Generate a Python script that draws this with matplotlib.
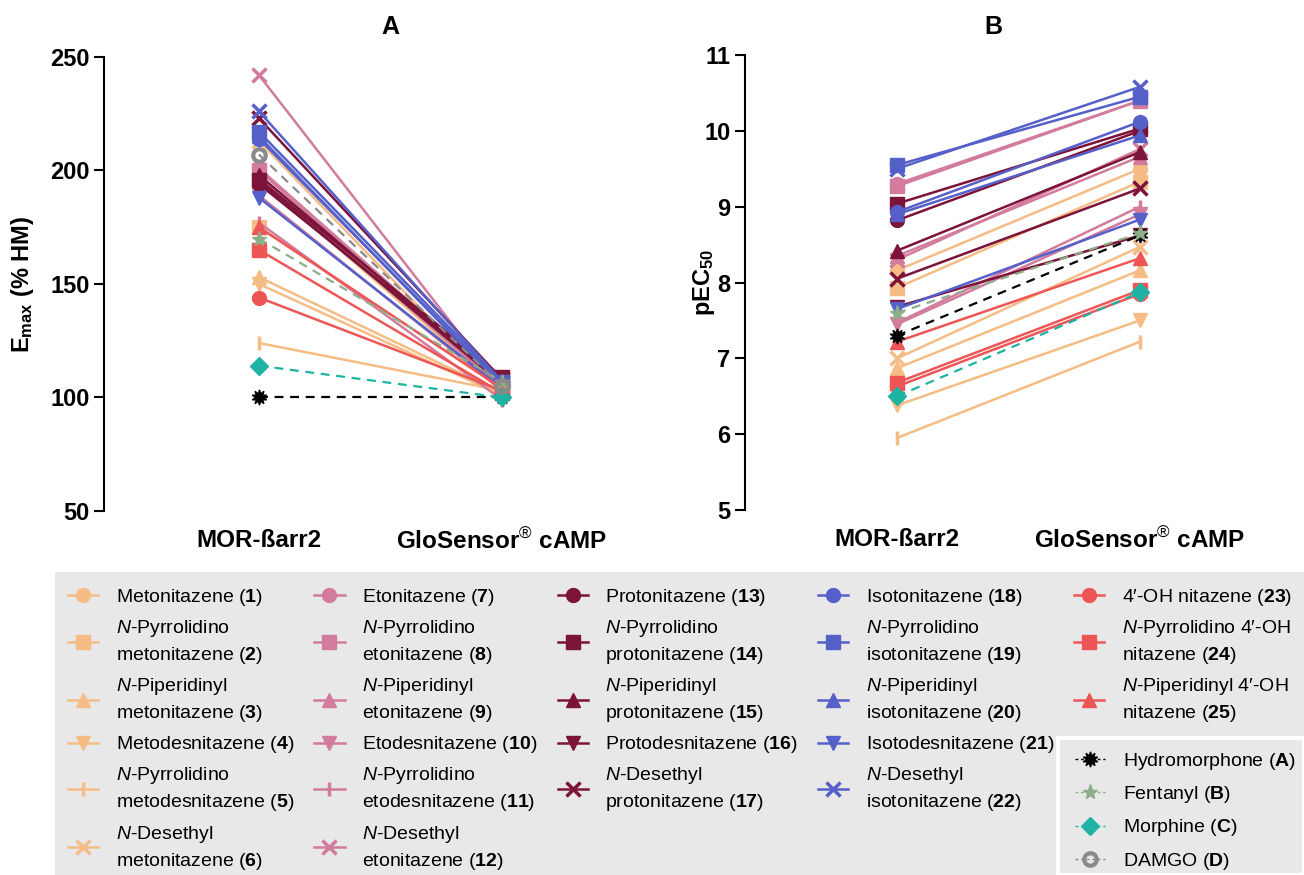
import numpy as np
import matplotlib
matplotlib.use("Agg")
import matplotlib.pyplot as plt
from matplotlib.lines import Line2D
from matplotlib.patches import Rectangle

plt.rcParams['font.family'] = ['Liberation Sans', 'DejaVu Sans']
plt.rcParams['mathtext.fontset'] = 'custom'
plt.rcParams['mathtext.rm'] = 'Liberation Sans'
plt.rcParams['mathtext.it'] = 'Liberation Sans:italic'
plt.rcParams['mathtext.bf'] = 'Liberation Sans:bold'

# ensayos
assays = ["MOR-ßarr2", r"GloSensor$^{\circledR}$ cAMP"]

# compuestos 1-25 (etiqueta de la leyenda)
names = [
    r"Metonitazene ($\mathbf{1}$)",
    "$\\mathit{N}$-Pyrrolidino\nmetonitazene ($\\mathbf{2}$)",
    "$\\mathit{N}$-Piperidinyl\nmetonitazene ($\\mathbf{3}$)",
    r"Metodesnitazene ($\mathbf{4}$)",
    "$\\mathit{N}$-Pyrrolidino\nmetodesnitazene ($\\mathbf{5}$)",
    "$\\mathit{N}$-Desethyl\nmetonitazene ($\\mathbf{6}$)",
    r"Etonitazene ($\mathbf{7}$)",
    "$\\mathit{N}$-Pyrrolidino\netonitazene ($\\mathbf{8}$)",
    "$\\mathit{N}$-Piperidinyl\netonitazene ($\\mathbf{9}$)",
    r"Etodesnitazene ($\mathbf{10}$)",
    "$\\mathit{N}$-Pyrrolidino\netodesnitazene ($\\mathbf{11}$)",
    "$\\mathit{N}$-Desethyl\netonitazene ($\\mathbf{12}$)",
    r"Protonitazene ($\mathbf{13}$)",
    "$\\mathit{N}$-Pyrrolidino\nprotonitazene ($\\mathbf{14}$)",
    "$\\mathit{N}$-Piperidinyl\nprotonitazene ($\\mathbf{15}$)",
    r"Protodesnitazene ($\mathbf{16}$)",
    "$\\mathit{N}$-Desethyl\nprotonitazene ($\\mathbf{17}$)",
    r"Isotonitazene ($\mathbf{18}$)",
    "$\\mathit{N}$-Pyrrolidino\nisotonitazene ($\\mathbf{19}$)",
    "$\\mathit{N}$-Piperidinyl\nisotonitazene ($\\mathbf{20}$)",
    r"Isotodesnitazene ($\mathbf{21}$)",
    "$\\mathit{N}$-Desethyl\nisotonitazene ($\\mathbf{22}$)",
    "4′-OH nitazene ($\\mathbf{23}$)",
    "$\\mathit{N}$-Pyrrolidino 4′-OH\nnitazene ($\\mathbf{24}$)",
    "$\\mathit{N}$-Piperidinyl 4′-OH\nnitazene ($\\mathbf{25}$)",
]

# Emax (% HM)
emax_barr2 = [196, 175, 153, 150, 124, 213, 201, 200, 197, 189, 177, 242, 194,
              196, 198, 195, 223, 214, 217, 215, 188, 226, 144, 165, 175]
emax_glo = [103, 104, 102, 101, 103, 102, 106, 105, 104, 103, 99, 104, 108,
            109, 107, 106, 108, 106, 107, 105, 104, 107, 103, 102, 104]

# pEC50
pec50_barr2 = [8.16, 7.93, 6.87, 6.38, 5.95, 7.00, 9.30, 9.27, 8.35, 7.45, 7.47, 8.30, 8.82,
               9.04, 8.42, 7.68, 8.05, 8.93, 9.55, 8.90, 7.65, 9.50, 6.63, 6.68, 7.22]
pec50_glo = [9.50, 9.33, 8.16, 7.50, 7.22, 8.47, 10.40, 10.40, 9.66, 8.90, 9.00, 9.76, 10.00,
             10.03, 9.72, 8.62, 9.24, 10.12, 10.45, 9.94, 8.83, 10.58, 7.85, 7.90, 8.32]

# referencias
ref_names = [r"Hydromorphone ($\mathbf{A}$)", r"Fentanyl ($\mathbf{B}$)",
             r"Morphine ($\mathbf{C}$)", r"DAMGO ($\mathbf{D}$)"]
ref_emax_barr2 = [100, 170, 114, 207]
ref_emax_glo = [100, 107, 100, 105]
ref_pec50_barr2 = [7.30, 7.60, 6.50, np.nan]
ref_pec50_glo = [8.62, 8.65, 7.87, np.nan]

# estilos por familia: meto (1-6), eto (7-12), proto (13-17), iso (18-22), 4'-OH (23-25)
naranja, rosa, granate, azul, rojo = '#F5BD85', '#D27B9D', '#7C1339', '#5660C9', '#EE5656'
colores = [naranja] * 6 + [rosa] * 6 + [granate] * 5 + [azul] * 5 + [rojo] * 3
formas = (['o', 's', '^', 'v', '|', 'x'] * 2 + ['o', 's', '^', 'v', 'x'] * 2
          + ['o', 's', '^'])

ref_colores = ['black', '#8DAE88', '#1EB3A3', '#8A8A8A']
ref_formas = [(10, 1, 0), '*', 'D', 'o']

fig = plt.figure(figsize=(13.04, 8.75), dpi=100)
W, H = 1304, 875
axA = fig.add_axes([104 / W, 1 - 511 / H, 555 / W, 454 / H])
axB = fig.add_axes([745 / W, 1 - 510 / H, 547 / W, 455 / H])

x = [0, 1]


def dibujar(ax, izq, der, r_izq, r_der):
    for i in range(25):
        m = formas[i]
        ew = 2.5 if m in ['|', 'x'] else 1
        ax.plot(x, [izq[i], der[i]], color=colores[i], lw=1.8, marker=m, ms=10,
                mew=ew, mec=colores[i], mfc=colores[i], zorder=3)
    for j in range(4):
        if np.isnan(r_izq[j]):
            continue
        mfc = 'none' if j == 3 else ref_colores[j]
        ax.plot(x, [r_izq[j], r_der[j]], color=ref_colores[j], lw=1.6, ls=(0, (4, 3)),
                marker=ref_formas[j], ms=11 if j < 2 else 9, mfc=mfc, mec=ref_colores[j],
                mew=3 if j == 3 else 1, zorder=4)


dibujar(axA, emax_barr2, emax_glo, ref_emax_barr2, ref_emax_glo)
dibujar(axB, pec50_barr2, pec50_glo, ref_pec50_barr2, ref_pec50_glo)

axA.set_xlim(-0.638, 1.646)
axA.set_ylim(50, 250)
axA.set_yticks([50, 100, 150, 200, 250])
axB.set_xlim(-0.626, 1.626)
axB.set_ylim(5, 11)
axB.set_yticks([5, 6, 7, 8, 9, 10, 11])

for ax in [axA, axB]:
    ax.set_xticks(x)
    ax.set_xticklabels(assays, fontsize=17.5, fontweight='bold')
    ax.spines['top'].set_visible(False)
    ax.spines['right'].set_visible(False)
    ax.spines['bottom'].set_visible(False)
    ax.spines['left'].set_linewidth(1.5)
    ax.tick_params(axis='y', labelsize=17, width=1.5, length=7)
    ax.tick_params(axis='x', length=0, pad=13)
    for t in ax.get_yticklabels():
        t.set_fontweight('bold')

axA.set_ylabel(r"E$_{\mathbf{max}}$ (% HM)", fontsize=17, fontweight='bold')
axB.set_ylabel(r"pEC$_{\mathbf{50}}$", fontsize=17, fontweight='bold')
axA.yaxis.set_label_coords((36 - 104) / 555, 0.5)
axB.yaxis.set_label_coords((717 - 745) / 547, 0.5)
fig.text(390 / W, 1 - 27 / H, "A", fontsize=18, fontweight='bold', ha='center', va='center')
fig.text(993 / W, 1 - 27 / H, "B", fontsize=18, fontweight='bold', ha='center', va='center')

# fondo gris de la leyenda y caja blanca de referencias
fig.add_artist(Rectangle((55 / W, 0), (W - 55) / W, (H - 572) / H, transform=fig.transFigure,
                         facecolor='#E8E8E8', edgecolor='none', zorder=0))
fig.add_artist(Rectangle((1058 / W, 0), (W - 1058) / W, (H - 738) / H, transform=fig.transFigure,
                         facecolor='#E8E8E8', edgecolor='white', lw=3, zorder=1))

handles = []
labels = []
for i in range(25):
    m = formas[i]
    ew = 2.5 if m in ['|', 'x'] else 1
    handles.append(Line2D([], [], color=colores[i], lw=1.8, marker=m, ms=10, mew=ew))
    labels.append(names[i])
    # huecos para que cada columna tenga 6 filas
    if i in [16, 21]:
        handles.append(Line2D([], [], alpha=0))
        labels.append(" ")
for k in range(3):
    handles.append(Line2D([], [], alpha=0))
    labels.append(" ")

leg = fig.legend(handles, labels, ncol=5, loc='upper left', bbox_to_anchor=(68 / W, 1 - 587 / H),
                 frameon=False, fontsize=14, handlelength=1.55, handletextpad=0.9,
                 columnspacing=1.04, labelspacing=0.52, borderpad=0, borderaxespad=0)
for t in leg.get_texts():
    t.set_linespacing(1.4)

ref_handles = []
for j in range(4):
    mfc = 'none' if j == 3 else ref_colores[j]
    ref_handles.append(Line2D([], [], color=ref_colores[j], lw=1, ls=(0, (2, 2)),
                              marker=ref_formas[j], ms=11 if j < 2 else 9, mfc=mfc,
                              mec=ref_colores[j], mew=3 if j == 3 else 1))
leg2 = fig.legend(ref_handles, ref_names, loc='upper left', bbox_to_anchor=(1075 / W, 1 - 751 / H),
                  frameon=False, fontsize=14, handlelength=1.55, handletextpad=0.9,
                  labelspacing=0.63, borderpad=0, borderaxespad=0)

fig.savefig("out.png", dpi=100)
